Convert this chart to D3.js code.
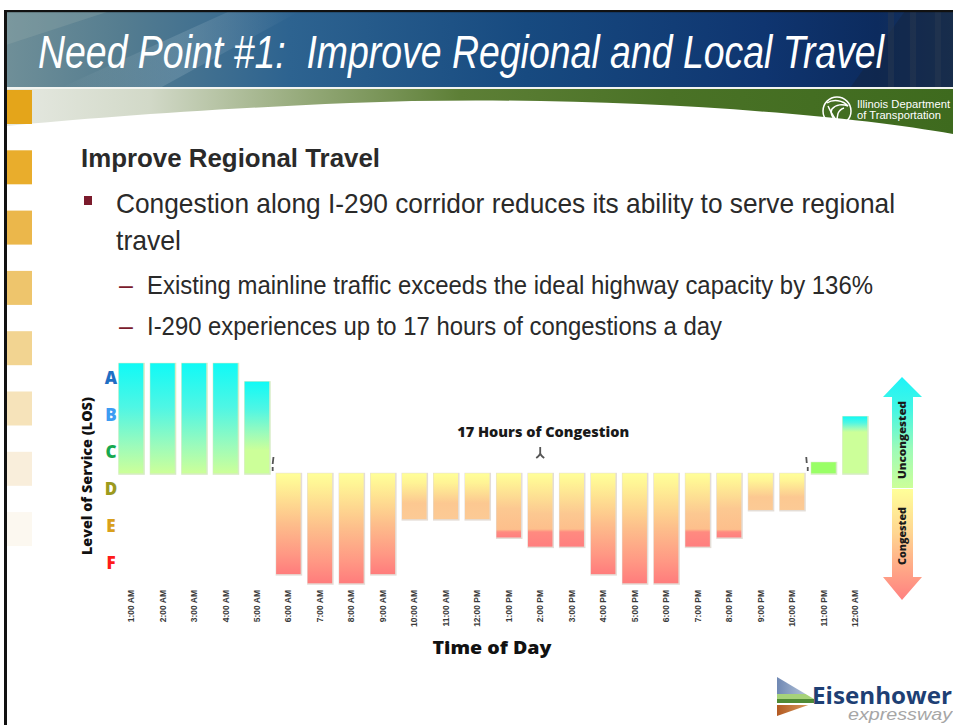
<!DOCTYPE html>
<html>
<head>
<meta charset="utf-8">
<script src="https://cdn.jsdelivr.net/npm/d3@7"></script>
<style>
  html, body { margin: 0; padding: 0; background: #fff; overflow: hidden; }
  text { white-space: pre; }
</style>
</head>
<body>
<svg id="slide" width="953" height="725"></svg>
<script>
// ---- Chart data -------------------------------------------------------
const times = [
  '1:00 AM', '2:00 AM', '3:00 AM', '4:00 AM', '5:00 AM', '6:00 AM',
  '7:00 AM', '8:00 AM', '9:00 AM', '10:00 AM', '11:00 AM', '12:00 PM',
  '1:00 PM', '2:00 PM', '3:00 PM', '4:00 PM', '5:00 PM', '6:00 PM',
  '7:00 PM', '8:00 PM', '9:00 PM', '10:00 PM', '11:00 PM', '12:00 AM'
];
// Level of service relative to the C/D threshold (positive = uncongested)
const losValues = [
  3, 3, 3, 3, 2.5, -2.75,
  -3, -3, -2.75, -1.25, -1.25, -1.25,
  -1.75, -2, -2, -2.75, -3, -3,
  -2, -1.75, -1, -1, 0.3, 1.55
];
const losLevels = ['A', 'B', 'C', 'D', 'E', 'F'];
const losLetterColors = ['#1f6fc4', '#3d9cf2', '#17a84f', '#9c9a1e', '#d9a01c', '#ff1a1a'];
const congestionHours = 17;
const congestionStart = '6:00 AM';
const congestionEnd = '10:00 PM';

// ---- Slide text -------------------------------------------------------
const titleText = 'Need Point #1:  Improve Regional and Local Travel';
const headingText = 'Improve Regional Travel';
const bulletLines = ['Congestion along I-290 corridor reduces its ability to serve regional', 'travel'];
const subBullets = [
  'Existing mainline traffic exceeds the ideal highway capacity by 136%',
  'I-290 experiences up to 17 hours of congestions a day'
];
const sideSquareColors = ['#e4a51a', '#e9ad2c', '#ebb74b', '#eec56c', '#f2d491', '#f6e3ba', '#f9eedb', '#fcf8f0'];

const narrow = "'Liberation Sans Narrow','Arial Narrow','Liberation Sans',Arial,sans-serif";
const heavy = "'Open Sans','DejaVu Sans',sans-serif";

const svg = d3.select('#slide');
const defs = svg.append('defs');

function linearGradient(id, stops, vertical = true) {
  const g = defs.append('linearGradient').attr('id', id)
    .attr('x1', 0).attr('y1', 0)
    .attr('x2', vertical ? 0 : 1).attr('y2', vertical ? 1 : 0);
  stops.forEach(([o, c]) => g.append('stop').attr('offset', o).attr('stop-color', c));
  return g;
}

svg.append('rect').attr('width', 953).attr('height', 725).attr('fill', '#fff');

// ---- Header banner ----------------------------------------------------
linearGradient('headerGrad', [
  [0, '#6f8f98'], [0.12, '#557d90'], [0.3, '#2d6390'], [0.55, '#174a80'],
  [0.8, '#0f3570'], [0.92, '#0c2b5e'], [1, '#1c3558']
], false);
svg.append('rect').attr('x', 6).attr('y', 11).attr('width', 947).attr('height', 77).attr('fill', 'url(#headerGrad)');
// soft highlights of the roadway photograph
linearGradient('streakGrad', [[0, 'rgba(255,255,255,0)'], [0.5, 'rgba(210,228,235,0.16)'], [1, 'rgba(255,255,255,0)']], false);
svg.append('path').attr('d', 'M60,88 L160,88 L300,11 L230,11 Z').attr('fill', 'url(#streakGrad)');
svg.append('path').attr('d', 'M6,45 L110,11 L6,11 Z').attr('fill', 'rgba(160,180,175,0.25)');
svg.append('path').attr('d', 'M850,88 L953,88 L953,11 L905,11 Z').attr('fill', 'rgba(20,35,60,0.45)');
[888, 910, 935].forEach(px => {
  svg.append('rect').attr('x', px).attr('y', 11).attr('width', 6).attr('height', 77).attr('fill', 'rgba(40,55,80,0.5)');
});
svg.append('text')
  .attr('x', 38).attr('y', 68)
  .attr('textLength', 846).attr('lengthAdjust', 'spacingAndGlyphs')
  .attr('font-family', narrow).attr('font-style', 'italic').attr('font-size', 46)
  .attr('fill', '#fff').text(titleText);

// frame lines
svg.append('rect').attr('x', 4).attr('y', 10).attr('width', 949).attr('height', 2.2).attr('fill', '#111');
svg.append('rect').attr('x', 4).attr('y', 10).attr('width', 3).attr('height', 715).attr('fill', '#111');

// ---- Green swoosh band ------------------------------------------------
svg.append('rect').attr('x', 7).attr('y', 87).attr('width', 946).attr('height', 2).attr('fill', '#f2f4f0');
linearGradient('bandGrad', [
  [0, '#e6e9e2'], [0.15, '#d2d9c8'], [0.32, '#93a877'], [0.48, '#5d7f36'],
  [0.7, '#4a7226'], [1, '#3e6a1e']
], false);
svg.append('path')
  .attr('d', 'M7,89 L953,89 L953,134 C820,110 560,94 350,103 C210,109 90,118 7,126 Z')
  .attr('fill', 'url(#bandGrad)');

// IDOT emblem
const idot = svg.append('g').attr('fill', 'none').attr('stroke', '#fff').attr('stroke-width', 1.5);
idot.append('circle').attr('cx', 837).attr('cy', 111).attr('r', 14);
idot.append('path').attr('d', 'M827,103 C833,99 843,100 848,106 C843,104 836,104 832,109 C830,112 832,118 836,121');
idot.append('path').attr('d', 'M838,122 C836,116 838,110 844,108');
idot.append('path').attr('d', 'M828,106 C831,112 833,117 838,122');
svg.append('text').attr('x', 857).attr('y', 108).attr('font-family', narrow).attr('font-size', 11.5)
  .attr('textLength', 93).attr('lengthAdjust', 'spacingAndGlyphs').attr('fill', '#fff').text('Illinois Department');
svg.append('text').attr('x', 857).attr('y', 119).attr('font-family', narrow).attr('font-size', 11.5)
  .attr('textLength', 84).attr('lengthAdjust', 'spacingAndGlyphs').attr('fill', '#fff').text('of Transportation');

// side squares
svg.append('g').selectAll('rect').data(sideSquareColors).join('rect')
  .attr('x', 7).attr('y', (d, i) => 90 + i * 60.3).attr('width', 25).attr('height', 34)
  .attr('fill', d => d);

// ---- Body text ----------------------------------------------------------
const textColor = '#2a2a2a';
svg.append('text').attr('x', 81).attr('y', 167)
  .attr('font-family', narrow).attr('font-weight', 'bold').attr('font-size', 25)
  .attr('textLength', 299).attr('lengthAdjust', 'spacingAndGlyphs')
  .attr('fill', textColor).text(headingText);

svg.append('rect').attr('x', 84).attr('y', 196).attr('width', 8).attr('height', 9).attr('fill', '#7b1b2c');
svg.append('text').attr('x', 116).attr('y', 213)
  .attr('font-family', narrow).attr('font-size', 28)
  .attr('textLength', 779).attr('lengthAdjust', 'spacingAndGlyphs')
  .attr('fill', textColor).text(bulletLines[0]);
svg.append('text').attr('x', 116).attr('y', 250)
  .attr('font-family', narrow).attr('font-size', 28)
  .attr('textLength', 65).attr('lengthAdjust', 'spacingAndGlyphs')
  .attr('fill', textColor).text(bulletLines[1]);

const subWidths = [726, 575];
subBullets.forEach((t, i) => {
  const by = 294 + i * 41;
  svg.append('text').attr('x', 119).attr('y', by)
    .attr('font-family', narrow).attr('font-size', 25).attr('fill', '#7b1b2c').text('\u2013');
  svg.append('text').attr('x', 147).attr('y', by)
    .attr('font-family', narrow).attr('font-size', 25)
    .attr('textLength', subWidths[i]).attr('lengthAdjust', 'spacingAndGlyphs')
    .attr('fill', textColor).text(t);
});

// ---- LOS bar chart ----------------------------------------------------
const x = d3.scaleBand().domain(times).range([115.3, 870.7]).paddingInner(0.22).paddingOuter(0.11);
const y = d3.scaleLinear().domain([-3, 3]).range([583.3, 363.3]);
const losY = d3.scalePoint().domain(losLevels).range([378, 563]);

const Y0 = '#ffff99', Y1 = '#fff495', PEACH = '#fcc891', RED = '#ff7f7f';
function barStops(v) {
  if (v > 0) {
    if (v < 0.5) return [[0, '#99ff66'], [1, '#99ff66']];
    const t = Math.min(1, (v - 1) / 2);
    return [[0, '#10faf6'], [t * 0.4, '#4ff6e4'], [t * 0.75, '#9cfbbb'], [t, '#ccff99'], [1, '#ccff99']];
  }
  const d = -v;
  if (d >= 2.5) return [[0, Y0], [0.1, Y1], [0.5, '#fdbe8b'], [0.8, '#ff9884'], [1, '#ff7c7c']];
  if (d >= 1.5) {
    const r = 1.6 / d;
    return [[0, Y0], [0.12, Y1], [0.55, PEACH], [r - 0.04, '#fdbf8c'], [r, '#ff8a80'], [1, RED]];
  }
  return [[0, Y0], [0.2, Y1], [0.65, PEACH], [1, '#fcca95']];
}
losValues.forEach((v, i) => linearGradient('bar' + i, barStops(v)));

const chart = svg.append('g');
const barData = times.map((t, i) => ({ time: t, value: losValues[i], i }));

// soft outline behind each bar
chart.append('g').selectAll('rect').data(barData).join('rect')
  .attr('x', d => x(d.time) - 0.5)
  .attr('y', d => Math.min(y(d.value), y(0)) - 0.5)
  .attr('width', x.bandwidth() + 2)
  .attr('height', d => Math.abs(y(d.value) - y(0)) + 2)
  .attr('fill', d => d.value > 0 ? '#d6ecc4' : '#e4ddd6');
chart.append('g').selectAll('rect').data(barData).join('rect')
  .attr('x', d => x(d.time))
  .attr('y', d => Math.min(y(d.value), y(0)))
  .attr('width', x.bandwidth())
  .attr('height', d => Math.abs(y(d.value) - y(0)))
  .attr('fill', d => `url(#bar${d.i})`);

// LOS letter scale
svg.append('g').selectAll('text').data(losLevels).join('text')
  .attr('x', 111).attr('y', d => losY(d)).attr('dy', '0.36em')
  .attr('text-anchor', 'middle')
  .attr('font-family', heavy).attr('font-weight', 800).attr('font-size', 17)
  .attr('fill', (d, i) => losLetterColors[i]).text(d => d);

svg.append('text')
  .attr('transform', 'translate(92,476) rotate(-90)')
  .attr('text-anchor', 'middle')
  .attr('font-family', heavy).attr('font-weight', 800).attr('font-size', 14)
  .attr('textLength', 158).attr('lengthAdjust', 'spacingAndGlyphs')
  .attr('fill', '#111').text('Level of Service (LOS)');

// time axis
const xAxis = svg.append('g').attr('transform', 'translate(0,590)')
  .call(d3.axisBottom(x).tickSize(0).tickPadding(0));
xAxis.select('.domain').remove();
xAxis.selectAll('text')
  .attr('transform', 'rotate(-90)')
  .attr('text-anchor', 'end')
  .attr('x', 0).attr('y', 0).attr('dy', '0.36em')
  .attr('font-family', "'Liberation Sans',Arial,sans-serif")
  .attr('font-weight', 'bold').attr('font-size', 8.5)
  .attr('fill', '#3a3a3a');

svg.append('text').attr('x', 492).attr('y', 654).attr('text-anchor', 'middle')
  .attr('font-family', heavy).attr('font-weight', 800).attr('font-size', 18)
  .attr('textLength', 119).attr('lengthAdjust', 'spacingAndGlyphs')
  .attr('fill', '#111').text('Time of Day');

// congestion bracket markers and label
const step = x.step();
const bracketLeft = x(congestionStart) - (step - x.bandwidth()) / 2;
const bracketRight = x(congestionEnd) + x.bandwidth() + (step - x.bandwidth()) / 2;
const bracketMid = (bracketLeft + bracketRight) / 2;
const mk = svg.append('g').attr('stroke', '#555').attr('stroke-width', 1.8).attr('fill', 'none');
mk.append('path').attr('d', `M${bracketLeft + 0.8},457 L${bracketLeft},464 M${bracketLeft},467 L${bracketLeft},471`);
mk.append('path').attr('d', `M${bracketRight - 1.5},457 L${bracketRight - 1},463 M${bracketRight},467 L${bracketRight},471`);
mk.append('path').attr('d', `M${bracketMid},447 L${bracketMid},453 M${bracketMid - 4},458 Q${bracketMid},455 ${bracketMid},453 Q${bracketMid},455 ${bracketMid + 4},458`);
svg.append('text').attr('x', bracketMid + 3).attr('y', 437).attr('text-anchor', 'middle')
  .attr('font-family', heavy).attr('font-weight', 800).attr('font-size', 13.5)
  .attr('textLength', 172).attr('lengthAdjust', 'spacingAndGlyphs')
  .attr('fill', '#1a1a1a').text(`${congestionHours} Hours of Congestion`);

// ---- Congested / uncongested double arrow ----------------------------
linearGradient('arrowUp', [[0, '#1df3f8'], [0.3, '#45f6e3'], [0.65, '#9dfbb8'], [1, '#ccff99']]);
linearGradient('arrowDown', [[0, '#ffff99'], [0.4, '#ffd591'], [0.75, '#ffa386'], [1, '#ff8080']]);
svg.append('path').attr('d', 'M902,377 L922,397 L913,397 L913,488 L892,488 L892,397 L883,397 Z')
  .attr('fill', 'url(#arrowUp)');
svg.append('path').attr('d', 'M892,489 L913,489 L913,577 L922,577 L902,600 L883,577 L892,577 Z')
  .attr('fill', 'url(#arrowDown)');
svg.append('text').attr('transform', 'translate(906,440) rotate(-90)').attr('text-anchor', 'middle')
  .attr('font-family', heavy).attr('font-weight', 800).attr('font-size', 11)
  .attr('textLength', 78).attr('lengthAdjust', 'spacingAndGlyphs')
  .attr('fill', '#1a1a1a').text('Uncongested');
svg.append('text').attr('transform', 'translate(906,536) rotate(-90)').attr('text-anchor', 'middle')
  .attr('font-family', heavy).attr('font-weight', 800).attr('font-size', 11)
  .attr('textLength', 58).attr('lengthAdjust', 'spacingAndGlyphs')
  .attr('fill', '#1a1a1a').text('Congested');

// ---- Eisenhower Expressway logo ---------------------------------------
defs.append('clipPath').attr('id', 'flagClip')
  .append('path').attr('d', 'M777,677 L814,699 L814,703 L777,716 Z');
linearGradient('flagSky', [[0, '#6f88b3'], [1, '#c3d0e2']], false);
linearGradient('flagSoil', [[0, '#b35a22'], [1, '#dca468']], false);
const flag = svg.append('g').attr('clip-path', 'url(#flagClip)');
flag.append('rect').attr('x', 777).attr('y', 677).attr('width', 37).attr('height', 17).attr('fill', 'url(#flagSky)');
flag.append('rect').attr('x', 777).attr('y', 694).attr('width', 37).attr('height', 5).attr('fill', '#a6d27a');
flag.append('rect').attr('x', 777).attr('y', 699).attr('width', 37).attr('height', 4).attr('fill', '#4f8a35');
flag.append('rect').attr('x', 777).attr('y', 703).attr('width', 37).attr('height', 2).attr('fill', '#fff');
flag.append('rect').attr('x', 777).attr('y', 705).attr('width', 37).attr('height', 11).attr('fill', 'url(#flagSoil)');
svg.append('text').attr('x', 848).attr('y', 720)
  .attr('font-family', "'Liberation Sans',Arial,sans-serif").attr('font-style', 'italic').attr('font-size', 17)
  .attr('textLength', 104).attr('lengthAdjust', 'spacingAndGlyphs')
  .attr('fill', '#a6a6a6').text('expressway');
svg.append('text').attr('x', 812).attr('y', 704)
  .attr('font-family', heavy).attr('font-weight', 'bold').attr('font-size', 23)
  .attr('textLength', 140).attr('lengthAdjust', 'spacingAndGlyphs')
  .attr('fill', '#1e3f74').text('Eisenhower');
</script>
</body>
</html>
